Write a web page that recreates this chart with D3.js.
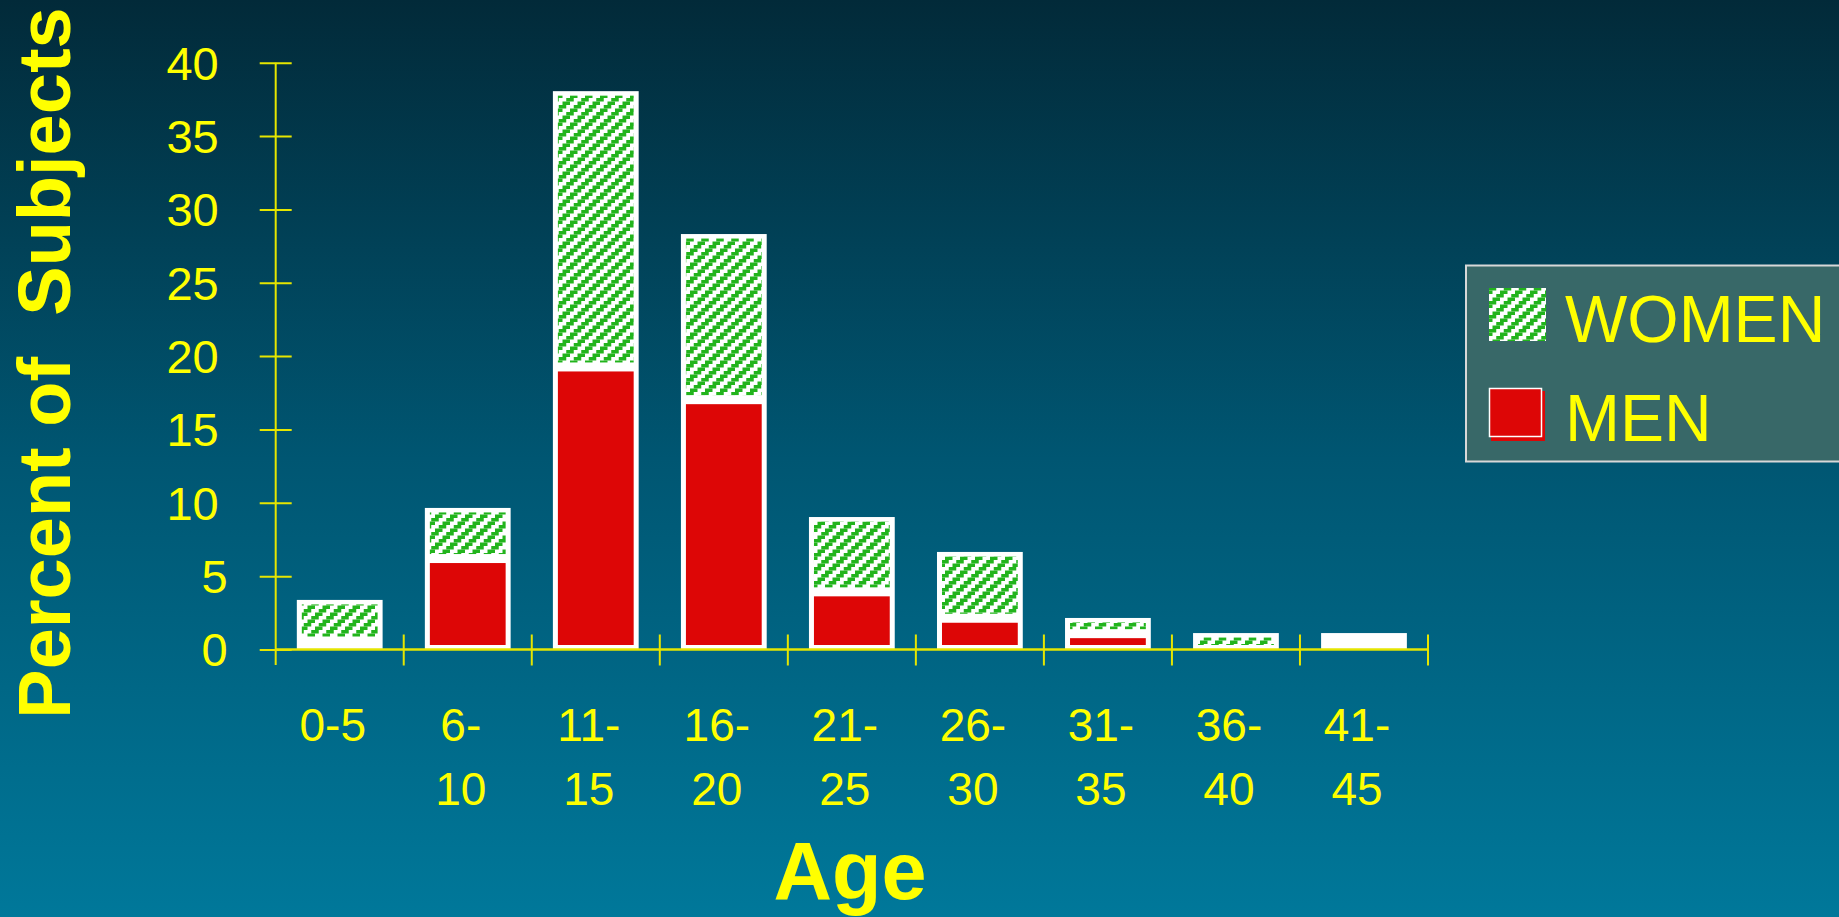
<!DOCTYPE html>
<html>
<head>
<meta charset="utf-8">
<script src="https://cdn.jsdelivr.net/npm/d3@7"></script>
<style>
  html, body { margin: 0; padding: 0; overflow: hidden; }
  svg { display: block; font-family: Arial, "Liberation Sans", sans-serif; }
</style>
</head>
<body>
<svg id="chart" width="1839" height="917"></svg>
<script>
// age groups and percent of subjects
const categories = ["0-5", "6-10", "11-15", "16-20", "21-25", "26-30", "31-35", "36-40", "41-45"];
const men   = [0.58, 6.2, 19.26, 17.03, 3.93, 2.13, 1.08, 0, 0.55];
const women = [2.8, 3.45, 18.8, 11.29, 5.1, 4.52, 1.07, 1.12, 0.57];
const yTicks = [0, 5, 10, 15, 20, 25, 30, 35, 40];
const legendItems = ["WOMEN", "MEN"];

const YELLOW = "#ffff00";
const RED = "#dd0606";
const GREEN = "#22b41c";

const svg = d3.select("#chart");
const defs = svg.append("defs");

// background gradient
const bg = defs.append("linearGradient").attr("id", "bg")
  .attr("x1", 0).attr("y1", 0).attr("x2", 0).attr("y2", 1);
bg.append("stop").attr("offset", "0%").attr("stop-color", "#022a39");
bg.append("stop").attr("offset", "50%").attr("stop-color", "#005672");
bg.append("stop").attr("offset", "100%").attr("stop-color", "#00789a");
svg.append("rect").attr("width", 1839).attr("height", 917).attr("fill", "url(#bg)");

// green stair-step hatch, rising to the right
const pat = defs.append("pattern").attr("id", "hatch")
  .attr("patternUnits", "userSpaceOnUse").attr("width", 15).attr("height", 14);
pat.append("rect").attr("width", 15).attr("height", 14).attr("fill", "#fff");
d3.range(4).forEach(i => {
  const x0 = 11.25 - i * 3.75;
  [-15, 0, 15].forEach(dx => {
    pat.append("rect")
      .attr("x", x0 + dx).attr("y", i * 3.5)
      .attr("width", 7.5).attr("height", 3.5)
      .attr("fill", GREEN);
  });
});

// scales
const x = d3.scaleBand().domain(categories).range([275.7, 1428])
  .paddingInner(0.33).paddingOuter(0.165);
const y = d3.scaleLinear().domain([0, 40]).range([649.5, 62.7]);

const rows = categories.map((c, i) => ({ cat: c, men: men[i], women: women[i] }));
const stacked = d3.stack().keys(["men", "women"])(rows);

// white bar bodies
svg.append("g").selectAll("rect")
  .data(rows)
  .enter()
  .append("rect")
  .attr("x", d => x(d.cat))
  .attr("y", d => y(d.men + d.women))
  .attr("width", x.bandwidth())
  .attr("height", d => y(0) - y(d.men + d.women))
  .attr("fill", "#fff");

// filled segments, inset inside the white frame
const fills = { men: RED, women: "url(#hatch)" };
stacked.forEach(layer => {
  svg.append("g").selectAll("rect")
    .data(layer)
    .enter()
    .append("rect")
    .attr("x", d => x(d.data.cat) + 5)
    .attr("y", d => y(d[1]) + 4.5)
    .attr("width", x.bandwidth() - 10)
    .attr("height", d => Math.max(0, y(d[0]) - y(d[1]) - 9))
    .attr("fill", fills[layer.key]);
});

// y axis
const yAxis = svg.append("g")
  .attr("transform", "translate(275.7,0)")
  .call(d3.axisLeft(y).tickValues(yTicks).tickSize(0).tickPadding(0));
yAxis.select(".domain").remove();
yAxis.append("line")
  .attr("x1", 0).attr("x2", 0).attr("y1", y(40)).attr("y2", 665)
  .attr("stroke", "#e6e600").attr("stroke-width", 2);
yAxis.selectAll(".tick").append("line")
  .attr("x1", -16).attr("x2", 16)
  .attr("stroke", "#e6e600").attr("stroke-width", 2);
yAxis.selectAll(".tick text")
  .attr("x", d => String(d).length > 1 ? -57 : -48)
  .attr("dy", "0.35em")
  .attr("fill", YELLOW)
  .attr("font-size", 47)
  .attr("font-family", "Arial, 'Liberation Sans', sans-serif")
  .attr("text-anchor", "end");

// x axis
const xAxis = svg.append("g")
  .attr("transform", `translate(0,${y(0)})`)
  .call(d3.axisBottom(x).tickSize(0).tickFormat(""));
xAxis.select(".domain").remove();
xAxis.append("line")
  .attr("x1", 275.7).attr("x2", 1428)
  .attr("stroke", "#e6e600").attr("stroke-width", 2.5);
const bounds = d3.range(1, categories.length + 1).map(i => 275.7 + i * x.step());
xAxis.selectAll("line.bound")
  .data(bounds)
  .enter()
  .append("line")
  .attr("class", "bound")
  .attr("x1", d => d).attr("x2", d => d)
  .attr("y1", -15).attr("y2", 16)
  .attr("stroke", "#e6e600").attr("stroke-width", 2);

xAxis.selectAll(".tick text").remove();
xAxis.selectAll(".tick").each(function (d) {
  const parts = d.length > 3 ? [d.slice(0, d.indexOf("-") + 1), d.slice(d.indexOf("-") + 1)] : [d];
  const t = d3.select(this).append("text")
    .attr("fill", YELLOW)
    .attr("font-size", 46)
    .attr("font-family", "Arial, 'Liberation Sans', sans-serif")
    .attr("text-anchor", "middle");
  parts.forEach((p, i) => {
    t.append("tspan").attr("x", -7).attr("y", 91.5 + i * 64).text(p);
  });
});

// axis titles
svg.append("text")
  .attr("x", 850).attr("y", 899)
  .attr("text-anchor", "middle")
  .attr("fill", YELLOW)
  .attr("font-size", 81)
  .attr("font-weight", "bold")
  .text("Age");

svg.append("text")
  .attr("transform", "translate(70,363) rotate(-90)")
  .attr("text-anchor", "middle")
  .attr("fill", YELLOW)
  .attr("font-size", 74)
  .attr("font-weight", "bold")
  .style("white-space", "pre")
  .text("Percent of  Subjects");

// legend
const legend = svg.append("g");
legend.append("rect")
  .attr("x", 1466).attr("y", 265.5).attr("width", 420).attr("height", 196)
  .attr("fill", "#386868").attr("stroke", "#d8d8d8").attr("stroke-width", 2);

legend.append("rect")
  .attr("x", 1489).attr("y", 288).attr("width", 57).attr("height", 53)
  .attr("fill", "url(#hatch)");
legend.append("rect")
  .attr("x", 1491).attr("y", 391).attr("width", 54).attr("height", 50)
  .attr("fill", RED);
legend.append("rect")
  .attr("x", 1489.5).attr("y", 388.5).attr("width", 52).attr("height", 48)
  .attr("fill", RED).attr("stroke", "#fff").attr("stroke-width", 1.5);

legend.selectAll("text.lab")
  .data(legendItems)
  .enter()
  .append("text")
  .attr("class", "lab")
  .attr("x", 1565)
  .attr("y", (d, i) => 341.5 + i * 99.5)
  .attr("fill", YELLOW)
  .attr("font-size", 66)
  .text(d => d);
</script>
</body>
</html>
